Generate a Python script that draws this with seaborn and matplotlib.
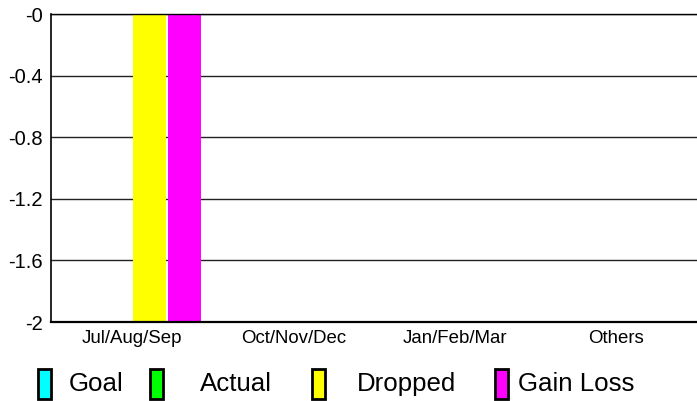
import matplotlib
matplotlib.use("Agg")
import matplotlib.pyplot as plt
from matplotlib.patches import Rectangle
import seaborn as sns
import pandas as pd

categories = ["Jul/Aug/Sep", "Oct/Nov/Dec", "Jan/Feb/Mar", "Others"]
series = ["Goal", "Actual", "Dropped", "Gain Loss"]
goal = [0, 0, 0, 0]
actual = [0, 0, 0, 0]
dropped = [-2, 0, 0, 0]
gain_loss = [-2, 0, 0, 0]
colors = ["#00FFFF", "#00FF00", "#FFFF00", "#FF00FF"]
y_ticks = [-2, -1.6, -1.2, -0.8, -0.4, 0]
y_tick_labels = ["-2", "-1.6", "-1.2", "-0.8", "-0.4", "-0"]

rows = []
for name, vals in zip(series, [goal, actual, dropped, gain_loss]):
    for c, v in zip(categories, vals):
        rows.append({"Quarter": c, "Series": name, "Value": v})
df = pd.DataFrame(rows)

sns.set_style("white")
plt.rcParams["font.family"] = ["Liberation Sans", "DejaVu Sans"]

W, H = 697, 401
fig = plt.figure(figsize=(W / 100, H / 100), dpi=100)
ax = fig.add_axes([51 / W, 1 - 322 / H, (W - 51) / W, (322 - 14) / H])

sns.barplot(data=df, x="Quarter", y="Value", hue="Series", order=categories,
            hue_order=series, palette=colors, width=0.873, gap=0.08,
            saturation=1, legend=False, ax=ax, errorbar=None, linewidth=0)

ax.set_ylim(-2, 0)
ax.set_yticks(y_ticks)
ax.set_yticklabels(y_tick_labels)
ax.set_xlim(-0.5, len(categories) - 0.5)
ax.set_axisbelow(True)
ax.yaxis.grid(True, color="#222222", linewidth=1.0)
ax.xaxis.grid(False)
ax.set_xlabel("")
ax.set_ylabel("")
ax.tick_params(axis="both", length=0, colors="black")
ax.tick_params(axis="x", labelsize=13.4, pad=6)
ax.tick_params(axis="y", labelsize=14.5, pad=5.8)
ax.spines["right"].set_visible(False)
ax.spines["top"].set_visible(True)
ax.spines["top"].set_color("black")
ax.spines["top"].set_linewidth(1.0)
ax.spines["left"].set_color("black")
ax.spines["left"].set_linewidth(1.2)
ax.spines["bottom"].set_color("black")
ax.spines["bottom"].set_linewidth(1.6)

# legend
patch_x = [38, 150, 312, 495]
text_x = [69, 200, 357, 518]
for px, tx, name, col in zip(patch_x, text_x, series, colors):
    fig.patches.append(Rectangle((px / W, 1 - 399 / H), 13 / W, 30 / H,
                                 transform=fig.transFigure, facecolor=col,
                                 edgecolor="black", linewidth=2.0))
    fig.text(tx / W, 1 - 384 / H, name, fontsize=18.6, va="center", ha="left",
             color="black")

fig.savefig("out.png", dpi=100)
